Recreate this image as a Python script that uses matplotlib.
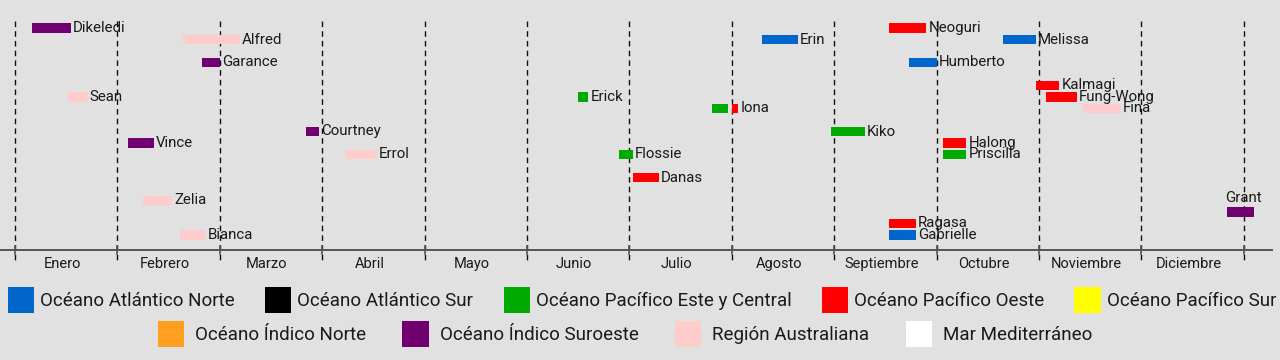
import datetime as dt
import calendar
import matplotlib
matplotlib.use("Agg")
import matplotlib.pyplot as plt
from matplotlib.patches import Patch
from matplotlib import font_manager as fm

# ---------------- data ----------------
months = ["Enero", "Febrero", "Marzo", "Abril", "Mayo", "Junio", "Julio",
          "Agosto", "Septiembre", "Octubre", "Noviembre", "Diciembre"]

basin_names = ["Océano Atlántico Norte", "Océano Atlántico Sur",
               "Océano Pacífico Este y Central", "Océano Pacífico Oeste",
               "Océano Pacífico Sur", "Océano Índico Norte",
               "Océano Índico Suroeste", "Región Australiana", "Mar Mediterráneo"]
basin_colors = ["#0066CC", "#000000", "#00AA00", "#FF0000", "#FFFF00",
                "#FF9F1F", "#700070", "#FFCCCC", "#FFFFFF"]

storm_names = ["Dikeledi", "Alfred", "Garance", "Sean", "Courtney", "Vince",
               "Errol", "Zelia", "Bianca", "Erick", "Flossie", "Danas",
               "Iona", "Iona", "Erin", "Kiko", "Neoguri", "Ragasa", "Gabrielle",
               "Humberto", "Melissa", "Halong", "Priscilla", "Kalmagi",
               "Fung-Wong", "Fina", "Grant"]
storm_basins = [6, 7, 6, 7, 6, 6,
                7, 7, 7, 2, 2, 3,
                2, 3, 0, 2, 3, 3, 0,
                0, 0, 3, 2, 3,
                3, 7, 6]
storm_start = ["2025-01-06", "2025-02-19", "2025-02-24", "2025-01-17", "2025-03-27", "2025-02-04",
               "2025-04-08", "2025-02-08", "2025-02-18", "2025-06-16", "2025-06-28", "2025-07-02",
               "2025-07-26", "2025-08-01", "2025-08-10", "2025-08-31", "2025-09-17", "2025-09-17", "2025-09-17",
               "2025-09-23", "2025-10-21", "2025-10-03", "2025-10-03", "2025-10-31",
               "2025-11-03", "2025-11-14", "2025-12-27"]
storm_end = ["2025-01-18", "2025-03-07", "2025-03-01", "2025-01-23", "2025-03-31", "2025-02-11",
             "2025-04-17", "2025-02-16", "2025-02-25", "2025-06-19", "2025-07-02", "2025-07-10",
             "2025-07-31", "2025-08-03", "2025-08-21", "2025-09-10", "2025-09-28", "2025-09-25", "2025-09-25",
             "2025-10-01", "2025-10-31", "2025-10-10", "2025-10-10", "2025-11-07",
             "2025-11-12", "2025-11-25", "2026-01-04"]
storm_lane = [0, 1, 3, 6, 9, 10,
              11, 15, 18, 6, 11, 13,
              7, 7, 1, 9, 0, 17, 18,
              3, 1, 10, 11, 5,
              6, 7, 16]
label_above = ["Grant"]

# ---------------- helpers ----------------
def month_pos(s):
    d = dt.date.fromisoformat(s)
    ndays = calendar.monthrange(d.year, d.month)[1]
    return (d.year - 2025) * 12 + (d.month - 1) + (d.day - 1) / ndays

avail = {f.name for f in fm.fontManager.ttflist}
narrow = "Liberation Sans Narrow" if "Liberation Sans Narrow" in avail else "Roboto"
FONT = [narrow, "DejaVu Sans"]
plt.rcParams["font.family"] = FONT

BG = "#E1E1E1"
TXT = "#1A1A1A"
W, H = 1280, 360
fig = plt.figure(figsize=(W / 100, H / 100), dpi=100, facecolor=BG)
ax = fig.add_axes([0, 0, 1, 1])
ax.set_facecolor(BG)

# pixel-ish mapping: x month units, y lane units
x0_px, month_px = 15, 102.4
y0_px, lane_px = 28, 11.5
ax.set_xlim(-x0_px / month_px, (W - x0_px) / month_px)
ax.set_ylim((H - y0_px) / lane_px, -y0_px / lane_px)
ax.axis("off")

def py(p):  # pixel y -> lane units (for guides only)
    return (p - y0_px) / lane_px

# month boundary dashed lines
for m in range(13):
    ax.plot([m, m], [py(21), py(262)], color="#111111", lw=1.0,
            ls=(0, (4, 3)), zorder=1)
# axis line with ticks
ax.plot([-x0_px / month_px, (W - 8 - x0_px) / month_px], [py(250), py(250)],
        color="#555555", lw=1.4, zorder=2)
for m in range(13):
    ax.plot([m, m], [py(246), py(254)], color="#555555", lw=1.2, zorder=2)
for i, mname in enumerate(months):
    ax.text(i + 0.46, py(264), mname, ha="center", va="center",
            fontsize=10.5, color=TXT, family=FONT)

# storm bars
for i, (n, b, s, e, lane) in enumerate(zip(storm_names, storm_basins,
                                           storm_start, storm_end, storm_lane)):
    xs, xe = month_pos(s), month_pos(e)
    ax.barh(lane, xe - xs, left=xs, height=0.85, color=basin_colors[b],
            edgecolor="none", zorder=3)
    if n in storm_names[i + 1:]:
        continue
    if n in label_above:
        ax.annotate(n, ((xs + xe) / 2, lane), xytext=(2, 10),
                    textcoords="offset points", ha="center", va="center",
                    fontsize=10.8, color=TXT, zorder=4)
    else:
        ax.annotate(n, (xe, lane), xytext=(1.5, 0), textcoords="offset points",
                    ha="left", va="center", fontsize=10.8, color=TXT, zorder=4)

# legend (two centred rows)
handles = [Patch(facecolor=c, edgecolor="none", label=l)
           for l, c in zip(basin_names, basin_colors)]
common = dict(frameon=False, handlelength=1.39, handleheight=1.83,
              borderaxespad=0, borderpad=0, labelcolor=TXT,
              prop={"family": FONT, "size": 13.5})
fig.legend(handles=handles[:5], ncol=5, loc="center",
           bbox_to_anchor=(642 / W, 1 - 300 / H),
           handletextpad=0.32, columnspacing=1.62, **common)
fig.legend(handles=handles[5:], ncol=4, loc="center",
           bbox_to_anchor=(625 / W, 1 - 334 / H),
           handletextpad=0.59, columnspacing=1.95, **common)

fig.savefig("out.png", dpi=100, facecolor=BG)
